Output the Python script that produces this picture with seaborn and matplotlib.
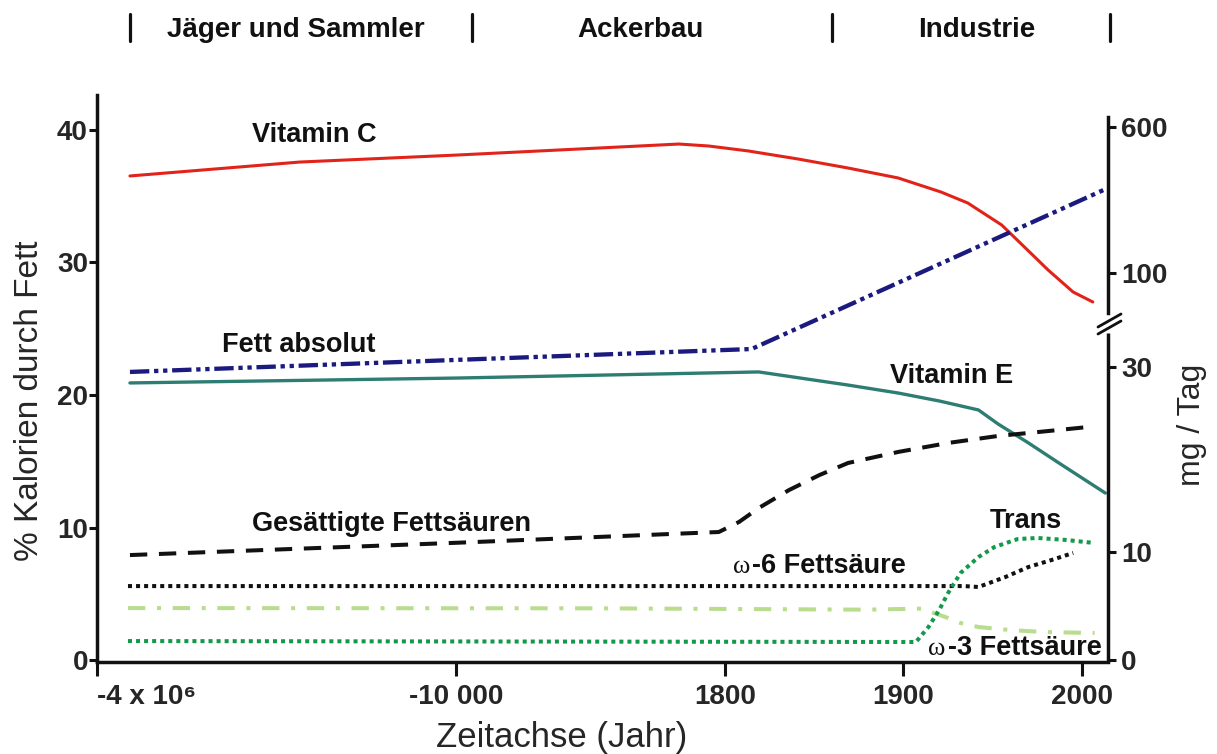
import numpy as np
import matplotlib
matplotlib.use("Agg")
import matplotlib.pyplot as plt
import matplotlib.transforms as mtransforms
from matplotlib.lines import Line2D
import seaborn as sns

sns.set_theme(style="white")
plt.rcParams["font.family"] = ["Liberation Sans", "DejaVu Sans"]

# ---------------- data ----------------
tick_years = [-4e6, -1e4, 1800, 1900, 2000]
tick_labels = ["-4 x 10\u2076", "-10 000", "1800", "1900", "2000"]
left_ticks = [0, 10, 20, 30, 40]
right_tick_pos = [0, 8.15, 22.1, 29.2, 40.2]
right_tick_labels = ["0", "10", "30", "100", "600"]
eras = ["Jäger und Sammler", "Ackerbau", "Industrie"]

vitc_x = [-3.634e6, -1.75e6, -9956, -3727, -217, 1098, 1813, 1841, 1869, 1897,
          1921, 1936, 1955, 1970, 1981, 1995, 2006]
vitc_y = [36.53, 37.58, 38.11, 38.64, 38.94, 38.79, 38.42, 37.81, 37.13, 36.38,
          35.32, 34.49, 32.83, 30.87, 29.43, 27.77, 27.02]

fett_x = [-3.634e6, 1815, 2012]
fett_y = [21.74, 23.47, 35.47]

vite_x = [-3.634e6, -9956, 1819, 1869, 1897, 1920, 1942, 1953, 1970, 1987, 2013]
vite_y = [20.91, 21.28, 21.74, 20.75, 20.15, 19.55, 18.87, 17.81, 16.38, 14.87, 12.60]

gfs_x = [-3.634e6, -9956, 1537, 1808, 1819, 1836, 1853, 1869, 1897, 1925, 1953, 1981, 2003]
gfs_y = [7.92, 8.85, 9.66, 10.42, 11.47, 12.83, 13.96, 14.87, 15.70, 16.38, 16.91, 17.28, 17.58]

o6_x = [-3.656e6, 1934, 1942, 1957, 1970, 1983, 1995]
o6_y = [5.58, 5.58, 5.51, 6.26, 7.02, 7.55, 8.08]

o3_x = [-3.656e6, -3727, 1880, 1910, 1925, 1932, 1942, 1960, 1979, 2007]
o3_y = [3.92, 3.90, 3.80, 3.88, 3.17, 2.79, 2.49, 2.26, 2.11, 2.04]

trans_x = [-3.656e6, 1907, 1914, 1920, 1925, 1932, 1942, 1951, 1964, 1975, 1991, 2007]
trans_y = [1.43, 1.36, 2.49, 3.77, 5.06, 6.57, 7.77, 8.53, 9.13, 9.21, 9.06, 8.83]

# ---------------- piecewise time axis scale ----------------
scale_years = [-4e6, -1e4, 1800, 1900, 2000, 2100]
scale_pos = [0, 360, 629, 808, 987, 1166]


def fwd(v):
    return np.interp(np.asarray(v, dtype=float), scale_years, scale_pos)


def inv(u):
    return np.interp(np.asarray(u, dtype=float), scale_pos, scale_years)


W, H = 1217, 754


def fp(px, py):
    return px / W, 1 - py / H


fig = plt.figure(figsize=(W / 100, H / 100), dpi=100)
ax = fig.add_axes([97 / W, 1 - 662 / H, (1108 - 97) / W, (662 - 95) / H])
ax.set_xscale("function", functions=(fwd, inv))
ax.set_xlim(-4e6, 2014.5)
ax.set_ylim(-0.15, 42.64)

LW = 2.9
series = [
    (vitc_x, vitc_y, "#e2231a", 2.2, "-"),
    (fett_x, fett_y, "#1b1a7e", 3.1, (0, (4.5, 1.1, 1, 1.1, 1, 1.1))),
    (vite_x, vite_y, "#2e7d72", 2.4, "-"),
    (gfs_x, gfs_y, "#111111", LW, (0, (4.3, 2.9))),
    (o6_x, o6_y, "#111111", LW, (0, (1, 1))),
    (o3_x, o3_y, "#b9dc8e", LW, (0, (4.3, 2.9, 1, 2.9))),
    (trans_x, trans_y, "#13994c", LW, (0, (1, 1))),
]
for xs, ys, col, lw, ls in series:
    sns.lineplot(x=xs, y=ys, ax=ax, color=col, linewidth=lw, linestyle=ls,
                 errorbar=None, legend=False, sort=False)

# axes styling
for s in ["top", "right"]:
    ax.spines[s].set_visible(False)
for s in ["left", "bottom"]:
    ax.spines[s].set_color("#111111")
    ax.spines[s].set_linewidth(2.5)
ax.set_xticks(tick_years)
ax.set_xticklabels(tick_labels, fontsize=20, fontweight="bold")
ax.xaxis.get_majorticklabels()[0].set_horizontalalignment("left")
ax.set_yticks(left_ticks)
ax.set_yticklabels([str(t) for t in left_ticks], fontsize=20, fontweight="bold")
ax.tick_params(axis="x", direction="out", length=10, width=2.2, color="#111111",
               pad=5.5, bottom=True)
ax.tick_params(axis="y", direction="out", length=5.5, width=2.2, color="#111111",
               pad=1, left=True)
ax.grid(False)

ax.set_xlabel("Zeitachse (Jahr)", fontsize=25, va="center")
ax.xaxis.set_label_coords(0.46, -(738 - 662) / 567)
ax.set_ylabel("% Kalorien durch Fett", fontsize=24, va="center")
ax.yaxis.set_label_coords((30 - 97) / 1011, (662 - 401) / 567)

# right axis
ax2 = ax.twinx()
ax2.set_ylim(ax.get_ylim())
for s in ["top", "left", "bottom"]:
    ax2.spines[s].set_visible(False)
ax2.spines["right"].set_color("#111111")
ax2.spines["right"].set_linewidth(2.5)
ax2.spines["right"].set_bounds(26.2, 41.0)
ax2.set_yticks(right_tick_pos)
ax2.set_yticklabels(right_tick_labels, fontsize=20, fontweight="bold")
ax2.tick_params(axis="y", direction="out", length=5.5, width=2.2, color="#111111",
                pad=4, right=True)
ax2.grid(False)
bt = mtransforms.blended_transform_factory(ax2.transAxes, ax2.transData)
ax2.plot([1, 1], [-0.15, 24.7], transform=bt, color="#111111", lw=2.5,
         clip_on=False, solid_capstyle="butt")
ax2.set_ylabel("mg / Tag", fontsize=23, va="center", rotation=90)
ax2.yaxis.set_label_coords((1192 - 97) / 1011, (662 - 425) / 567)

# axis break marks
for (x0, y0, x1, y1) in [(1098, 334, 1121, 321), (1098, 327, 1121, 314)]:
    a, b = fp(x0, y0)
    c, d = fp(x1, y1)
    fig.add_artist(Line2D([a, c], [b, d], transform=fig.transFigure,
                          color="#111111", lw=2))

# header eras
for bx in [130, 472, 832, 1110]:
    a, b = fp(bx, 14)
    _, d = fp(bx, 41)
    fig.add_artist(Line2D([a, a], [b, d], transform=fig.transFigure,
                          color="#111111", lw=2.3))
for name, cx in zip(eras, [296, 640, 977]):
    fig.text(*fp(cx, 30), name, ha="center", va="center", fontsize=20,
             fontweight="bold", color="#111111")

# line labels
labels = [
    ("Vitamin C", 314, 135),
    ("Fett absolut", 299, 345),
    ("Vitamin E", 952, 376),
    ("Gesättigte Fettsäuren", 392, 524),
    ("Trans", 1026, 521),
]
for txt, cx, cy in labels:
    fig.text(*fp(cx, cy), txt, ha="center", va="center", fontsize=19.5,
             fontweight="bold", color="#111111")

for num, ox, tx, cy in [("-6 Fettsäure", 742, 752, 566), ("-3 Fettsäure", 937, 948, 648)]:
    fig.text(*fp(ox, cy + 1), "\u03c9", ha="center", va="center", fontsize=19,
             family=["Liberation Serif", "DejaVu Serif"], color="#111111")
    fig.text(*fp(tx, cy), num, ha="left", va="center", fontsize=19.5,
             fontweight="bold", color="#111111")

fig.savefig("out.png", dpi=100)
